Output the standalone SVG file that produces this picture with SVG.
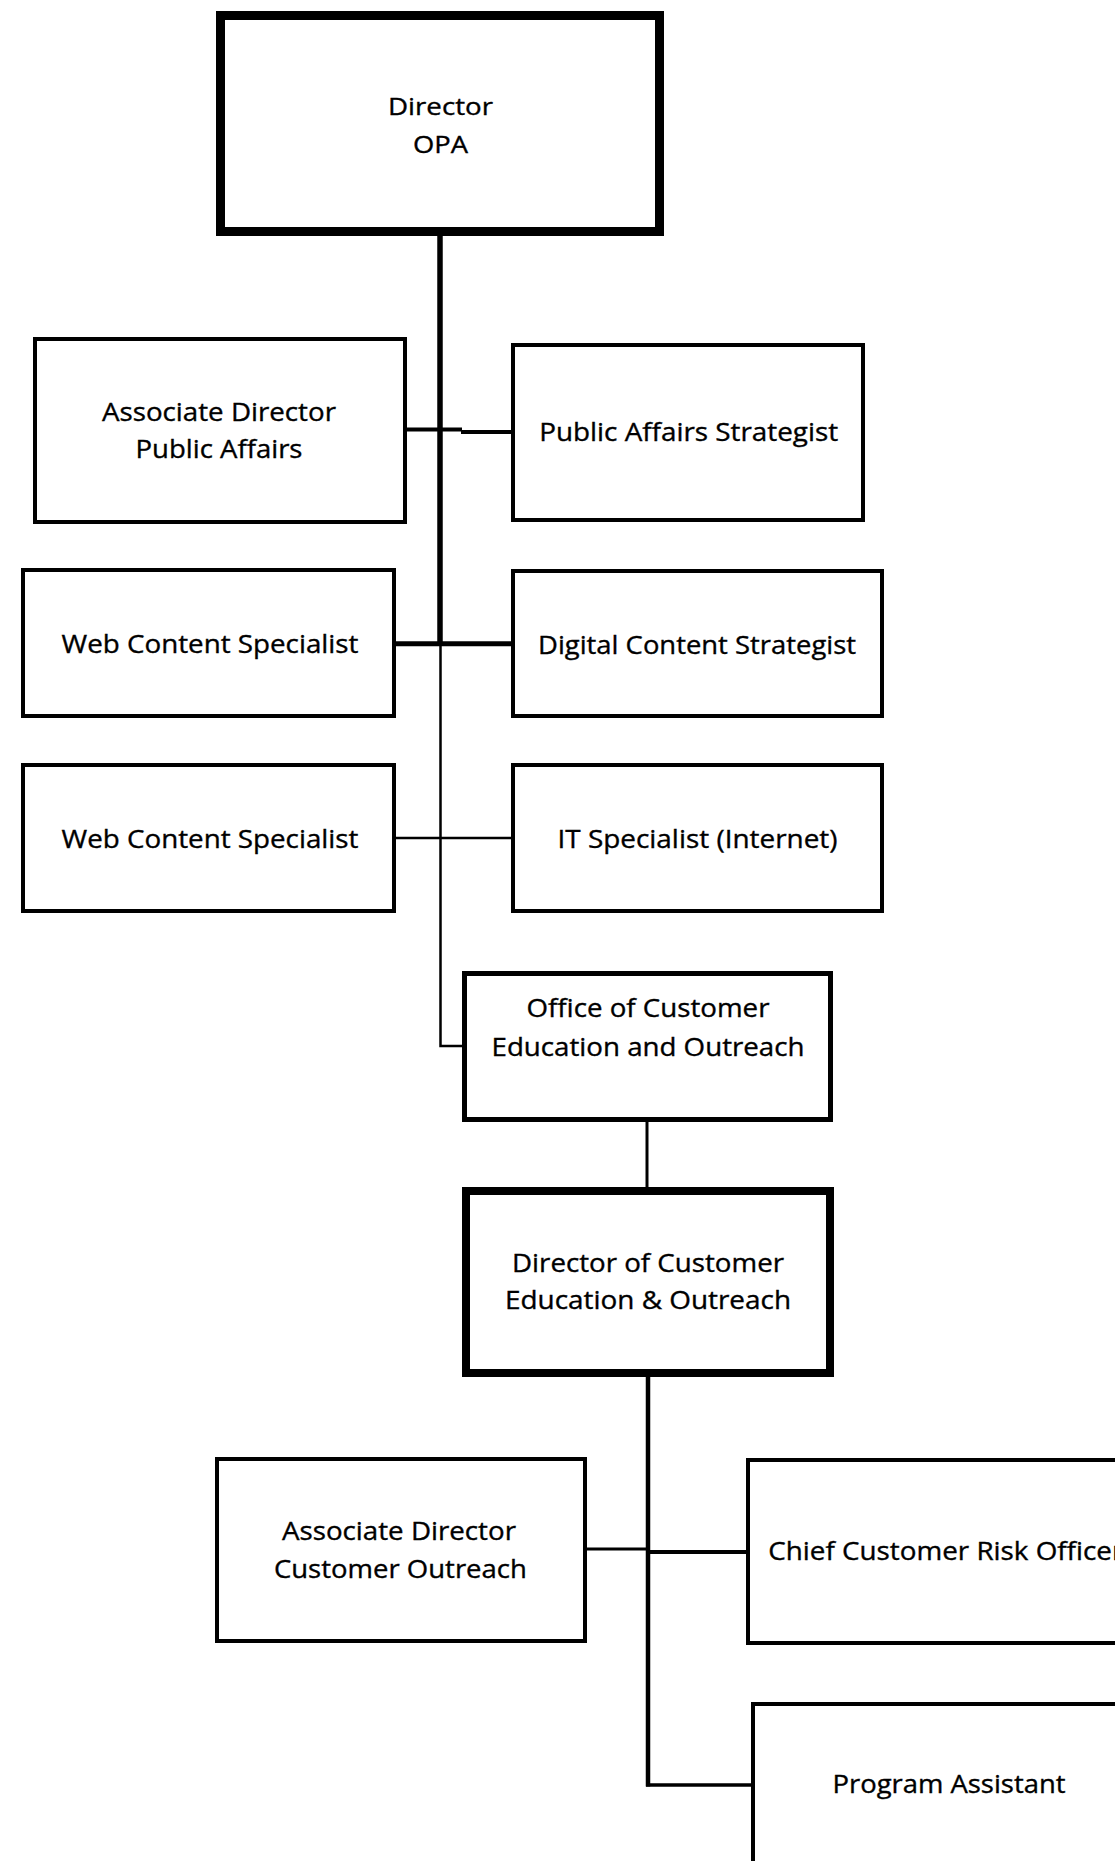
<svg xmlns="http://www.w3.org/2000/svg" width="1115" height="1861" viewBox="0 0 1115 1861">
  <style>
    .box { fill: #ffffff; stroke: #000000; stroke-width: 4; }
    .box.heavy { stroke-width: 8; }
    .box.mid { stroke-width: 5; }
    .lbl { font-family: "Open Sans", "Noto Sans", "Liberation Sans", sans-serif; font-size: 25px; fill: #000000; stroke: #000000; stroke-width: 0.35px; text-anchor: middle; }
    .lbl.start { text-anchor: start; }
    .lbl.small { font-size: 23.5px; }
    .wire { fill: none; stroke: #000000; stroke-linecap: butt; stroke-linejoin: miter; }
  </style>
  <rect width="1115" height="1861" fill="#ffffff"/>

  <!-- reporting lines -->
  <g id="connectors">
    <path class="wire" stroke-width="5.5" d="M440 236 V644"/>
    <path class="wire" stroke-width="2.5" d="M440.5 644 V1046 H463"/>
    <path class="wire" stroke-width="4" d="M407 429.5 H462"/>
    <path class="wire" stroke-width="4" d="M461 432 H511"/>
    <path class="wire" stroke-width="5" d="M396 643.7 H511"/>
    <path class="wire" stroke-width="2.5" d="M396 838 H511"/>
    <path class="wire" stroke-width="3" d="M647 1122 V1187"/>
    <path class="wire" stroke-width="4.5" d="M648 1377 V1786.5"/>
    <path class="wire" stroke-width="3.5" d="M646 1785 H751"/>
    <path class="wire" stroke-width="3" d="M587 1549 H648"/>
    <path class="wire" stroke-width="4" d="M648 1552 H746"/>
  </g>

  <g id="director-opa">
    <rect class="box" x="220.5" y="15.5" width="439" height="216" style="stroke-width:9"/>
    <text class="lbl small" x="440.5" y="115" textLength="105" lengthAdjust="spacingAndGlyphs">Director</text>
    <text class="lbl small" x="440.5" y="153" textLength="55" lengthAdjust="spacingAndGlyphs">OPA</text>
  </g>

  <g id="assoc-director-public-affairs">
    <rect class="box" x="35" y="339" width="370" height="183"/>
    <text class="lbl" x="219" y="420.5" textLength="234" lengthAdjust="spacingAndGlyphs">Associate Director</text>
    <text class="lbl" x="219" y="458.3" textLength="167" lengthAdjust="spacingAndGlyphs">Public Affairs</text>
  </g>

  <g id="public-affairs-strategist">
    <rect class="box" x="513" y="345" width="350" height="175"/>
    <text class="lbl" x="688.7" y="441" textLength="299" lengthAdjust="spacingAndGlyphs">Public Affairs Strategist</text>
  </g>

  <g id="web-content-specialist-1">
    <rect class="box" x="23" y="570" width="371" height="146"/>
    <text class="lbl" x="210" y="653" textLength="297" lengthAdjust="spacingAndGlyphs">Web Content Specialist</text>
  </g>

  <g id="digital-content-strategist">
    <rect class="box" x="513" y="571" width="369" height="145"/>
    <text class="lbl" x="697" y="654.3" textLength="318" lengthAdjust="spacingAndGlyphs">Digital Content Strategist</text>
  </g>

  <g id="web-content-specialist-2">
    <rect class="box" x="23" y="765" width="371" height="146"/>
    <text class="lbl" x="210" y="847.5" textLength="297" lengthAdjust="spacingAndGlyphs">Web Content Specialist</text>
  </g>

  <g id="it-specialist">
    <rect class="box" x="513" y="765" width="369" height="146"/>
    <text class="lbl" x="697.5" y="847.5" textLength="280" lengthAdjust="spacingAndGlyphs">IT Specialist (Internet)</text>
  </g>

  <g id="office-customer-education">
    <rect class="box mid" x="464.5" y="973.5" width="366" height="146"/>
    <text class="lbl" x="648" y="1016.7" textLength="243" lengthAdjust="spacingAndGlyphs">Office of Customer</text>
    <text class="lbl" x="648" y="1055.5" textLength="313" lengthAdjust="spacingAndGlyphs">Education and Outreach</text>
  </g>

  <g id="director-customer-education">
    <rect class="box heavy" x="466" y="1191" width="364" height="182"/>
    <text class="lbl" x="648" y="1272" textLength="272" lengthAdjust="spacingAndGlyphs">Director of Customer</text>
    <text class="lbl" x="648" y="1309" textLength="286" lengthAdjust="spacingAndGlyphs">Education &amp; Outreach</text>
  </g>

  <g id="assoc-director-customer-outreach">
    <rect class="box" x="217" y="1459" width="368" height="182"/>
    <text class="lbl" x="399" y="1540" textLength="234" lengthAdjust="spacingAndGlyphs">Associate Director</text>
    <text class="lbl" x="400.4" y="1578.3" textLength="253" lengthAdjust="spacingAndGlyphs">Customer Outreach</text>
  </g>

  <g id="chief-customer-risk-officer">
    <rect class="box" x="748" y="1460" width="397" height="183"/>
    <text class="lbl start" x="768.3" y="1560" textLength="355" lengthAdjust="spacingAndGlyphs">Chief Customer Risk Officer</text>
  </g>

  <g id="program-assistant">
    <rect class="box" x="753" y="1704" width="395" height="170"/>
    <text class="lbl" x="949" y="1792.7" textLength="233" lengthAdjust="spacingAndGlyphs">Program Assistant</text>
  </g>
</svg>
